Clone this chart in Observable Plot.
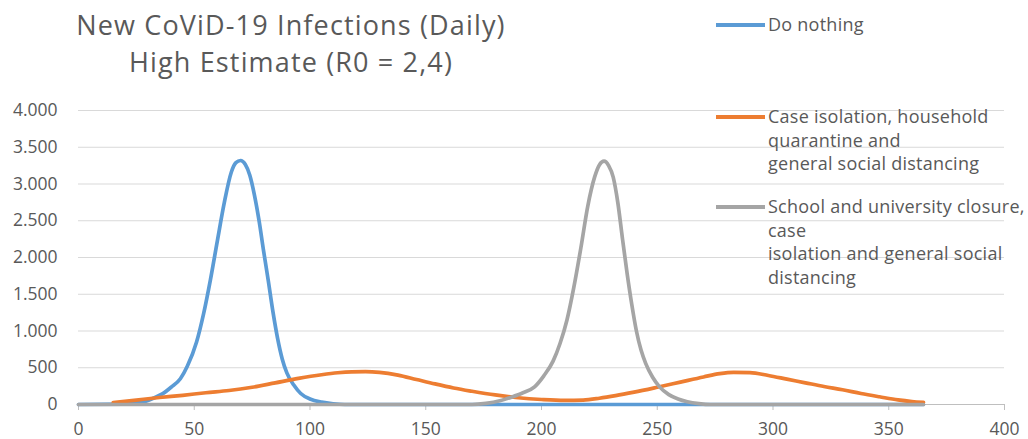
<!DOCTYPE html>
<html>
<head>
<meta charset="utf-8">
<script src="https://cdn.jsdelivr.net/npm/d3@7"></script>
<script src="https://cdn.jsdelivr.net/npm/@observablehq/plot@0.6"></script>
<style>
  html, body { margin: 0; padding: 0; background: #fff; }
  #wrap { position: relative; width: 1028px; height: 439px; font-family: "Open Sans", sans-serif; color: #595959; }
  #chart { position: absolute; left: 0; top: 0; }
  #title { position: absolute; left: 0; top: 6px; width: 582px; text-align: center; font-size: 27px; letter-spacing: 1.15px; line-height: 37px; }
  .entry { position: absolute; left: 716px; display: flex; align-items: flex-start; font-size: 18px; letter-spacing: 0.25px; line-height: 23.5px; white-space: nowrap; }
  .swatch { width: 49px; height: 3.5px; margin-top: 10px; margin-right: 3px; flex: none; }
</style>
</head>
<body>
<div id="wrap">
  <div id="chart"></div>
  <div id="title"></div>
  <div id="legend"></div>
</div>
<script>
// Chart text
const titleLines = ["New CoViD-19 Infections (Daily)", "High Estimate (R0 = 2,4)"];

// Series names (legend lines as wrapped in the legend box)
const seriesNames = ["Do nothing", "Case isolation", "School closure"];
const legendLines = [
  ["Do nothing"],
  ["Case isolation, household", "quarantine and", "general social distancing"],
  ["School and university closure,", "case", "isolation and general social", "distancing"]
];
const seriesColors = ["#5b9bd5", "#ed7d31", "#a5a5a5"];

// Axis ticks
const xTicks = [0, 50, 100, 150, 200, 250, 300, 350, 400];
const yTicks = [0, 500, 1000, 1500, 2000, 2500, 3000, 3500, 4000];

// Do nothing: new infections per day
const doNothingDays = [0, 20, 25, 30, 33, 36, 40, 44, 47, 51, 54, 57, 60, 63, 66, 68, 70, 72, 74, 76, 78, 80, 82, 84, 86, 88, 90, 93, 96, 100, 105, 110, 115, 365];
const doNothingValues = [0, 5, 20, 55, 95, 140, 235, 350, 520, 850, 1230, 1700, 2230, 2750, 3160, 3290, 3320, 3270, 3120, 2850, 2500, 2080, 1680, 1260, 900, 620, 430, 265, 150, 75, 32, 10, 0, 0];

// Case isolation, household quarantine and general social distancing
const caseDays = [15, 25, 35, 45, 55, 65, 75, 85, 95, 105, 112, 118, 124, 130, 138, 146, 154, 162, 170, 180, 190, 200, 210, 218, 225, 232, 240, 250, 260, 270, 277, 283, 290, 298, 306, 314, 322, 330, 338, 346, 354, 360, 365];
const caseValues = [25, 60, 95, 125, 160, 190, 235, 295, 355, 405, 432, 445, 448, 438, 400, 340, 280, 225, 180, 130, 92, 68, 55, 60, 85, 120, 168, 235, 305, 375, 420, 438, 435, 395, 345, 295, 245, 200, 150, 105, 62, 40, 28];

// School and university closure, case isolation and general social distancing
const schoolDays = [0, 170, 176, 182, 187, 192, 197, 201, 205, 208, 211, 214, 217, 220, 223, 225, 227, 229, 231, 233, 235, 237, 239, 241, 243, 245, 248, 251, 255, 259, 263, 268, 273, 365];
const schoolValues = [0, 0, 15, 50, 100, 160, 240, 390, 590, 830, 1150, 1600, 2130, 2700, 3100, 3260, 3310, 3250, 3090, 2740, 2250, 1780, 1360, 1000, 740, 560, 370, 240, 135, 75, 38, 12, 0, 0];

const series = [
  {days: doNothingDays, values: doNothingValues},
  {days: caseDays, values: caseValues},
  {days: schoolDays, values: schoolValues}
].map((s, i) => ({
  name: seriesNames[i],
  color: seriesColors[i],
  rows: s.days.map((d, j) => ({day: d, value: s.values[j]}))
}));

const yFormat = d => d3.format(",")(d).replace(/,/g, ".");

const chart = Plot.plot({
  width: 1028,
  height: 439,
  marginLeft: 78,
  marginRight: 24,
  marginTop: 110,
  marginBottom: 35,
  style: {fontFamily: "'Open Sans', sans-serif", fontSize: "17.5px", color: "#595959", background: "transparent", overflow: "visible"},
  x: {domain: [0, 400]},
  y: {domain: [0, 4000]},
  marks: [
    Plot.gridY(yTicks, {stroke: "#d9d9d9", strokeOpacity: 1}),
    Plot.axisY(yTicks, {tickSize: 0, tickPadding: 21, tickFormat: yFormat, label: null, fill: "#595959"}),
    Plot.ruleY([0], {stroke: "#bfbfbf"}),
    Plot.axisX(xTicks, {tickSize: 6, tickPadding: 12, stroke: "#bfbfbf", label: null, fill: "#595959"}),
    ...series.map(s => Plot.line(s.rows, {
      x: "day", y: "value", stroke: s.color, strokeWidth: 3.7,
      curve: "monotone-x", strokeLinejoin: "round", strokeLinecap: "round"
    }))
  ]
});
document.getElementById("chart").append(chart);

// Title
const title = document.getElementById("title");
title.innerHTML = titleLines.map(t => `<div>${t}</div>`).join("");

// Legend entries, placed in the upper-right of the chart
const legendTops = [13, 105, 195];
const legend = document.getElementById("legend");
legendLines.forEach((lines, i) => {
  const e = document.createElement("div");
  e.className = "entry";
  e.style.top = legendTops[i] + "px";
  e.innerHTML = `<span class="swatch" style="background:${seriesColors[i]}"></span><span>${lines.join("<br>")}</span>`;
  legend.append(e);
});
</script>
</body>
</html>
